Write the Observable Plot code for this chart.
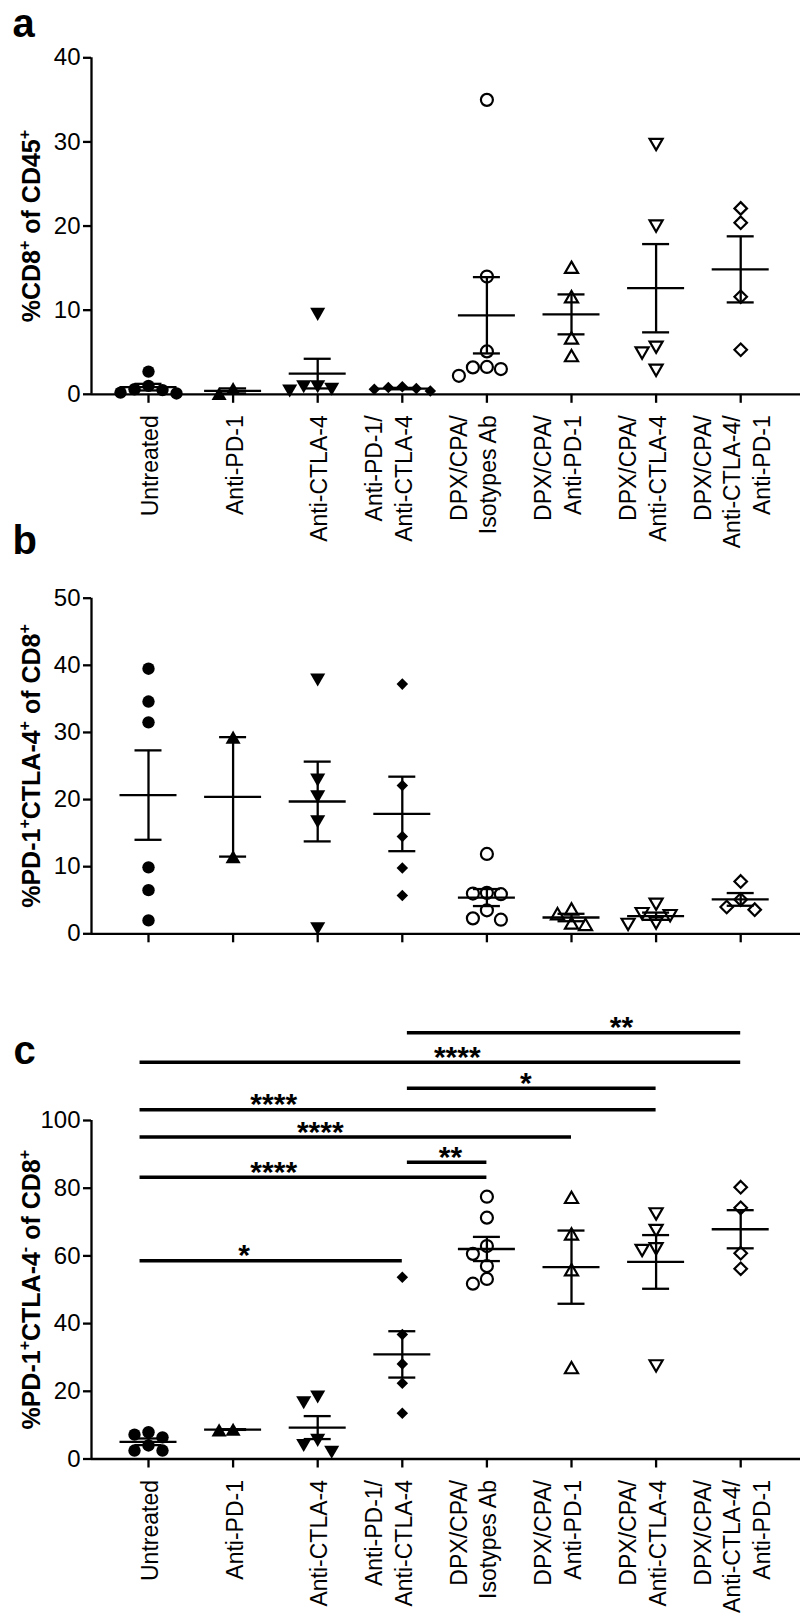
<!DOCTYPE html>
<html><head><meta charset="utf-8">
<script src="https://cdn.jsdelivr.net/npm/d3@7"></script>
<script src="https://cdn.jsdelivr.net/npm/@observablehq/plot@0.6"></script>
<style>
body{margin:0;background:#fff;}
#chart{width:800px;}
#chart svg{display:block;}
</style></head><body><div id="chart"></div>
<script>
// ---------- categories ----------
const categories = ["Untreated","Anti-PD-1","Anti-CTLA-4","Anti-PD-1/\nAnti-CTLA-4",
  "DPX/CPA/\nIsotypes Ab","DPX/CPA/\nAnti-PD-1","DPX/CPA/\nAnti-CTLA-4","DPX/CPA/\nAnti-CTLA-4/\nAnti-PD-1"];
const groupSymbol = ["circle","triUp","triDown","diamond","circle","triUp","triDown","diamond"];
const groupFilled = [true,true,true,true,false,false,false,false];

// ---------- panel a : %CD8+ of CD45+ ----------
const a_untreated = [2.7, 1.0, 0.6, 0.5, 0.2, 0.1];
const a_antiPD1   = [0.7, 0.1];
const a_antiCTLA4 = [9.5, 0.9, 0.9, 0.6, 0.4];
const a_combo     = [0.9, 0.8, 0.7, 0.6, 0.4];
const a_dpxIso    = [35.0, 14.0, 5.1, 3.25, 3.2, 3.0, 2.2];
const a_dpxPD1    = [15.1, 11.6, 6.7, 4.6];
const a_dpxCTLA4  = [29.7, 20.0, 5.6, 4.9, 2.85];
const a_dpxCombo  = [22.1, 20.4, 11.6, 5.3];
const a_ticks = [0, 10, 20, 30, 40];

// ---------- panel b : %PD-1+CTLA-4+ of CD8+ ----------
const b_untreated = [39.5, 34.6, 31.5, 9.9, 6.5, 2.0];
const b_antiPD1   = [29.3, 11.5];
const b_antiCTLA4 = [37.8, 22.9, 20.4, 16.7, 0.75];
const b_combo     = [37.2, 22.1, 14.5, 9.8, 5.7];
const b_dpxIso    = [11.9, 6.1, 6.0, 5.9, 3.5, 2.3, 2.1];
const b_dpxPD1    = [3.7, 3.0, 1.6, 1.4];
const b_dpxCTLA4  = [4.4, 3.0, 2.7, 1.6, 1.4];
const b_dpxCombo  = [7.8, 5.1, 4.0, 3.6];
const b_ticks = [0, 10, 20, 30, 40, 50];

// ---------- panel c : %PD-1+CTLA-4- of CD8+ ----------
const c_untreated = [7.9, 7.2, 6.4, 4.0, 2.5, 2.5];
const c_antiPD1   = [8.8, 8.6];
const c_antiCTLA4 = [18.3, 16.6, 5.5, 4.0, 2.0];
const c_combo     = [53.7, 36.8, 28.1, 22.4, 13.5];
const c_dpxIso    = [77.5, 71.3, 62.9, 60.6, 57.0, 53.2, 51.8];
const c_dpxPD1    = [77.3, 66.5, 55.9, 27.0];
const c_dpxCTLA4  = [72.4, 67.5, 62.1, 61.6, 27.5];
const c_dpxCombo  = [80.3, 74.2, 60.8, 56.2];
const c_ticks = [0, 20, 40, 60, 80, 100];

// significance brackets (panel c): group indices, bracket level (y units), stars, star position (category units)
const sigFrom  = [3, 0, 3, 0, 0, 3, 0, 0];
const sigTo    = [7, 7, 6, 6, 5, 4, 4, 3];
const sigLevel = [125.9, 117.2, 109.5, 103.2, 95.1, 87.7, 83.2, 58.6];
const sigStars = ["**", "****", "*", "****", "****", "**", "****", "*"];
const sigStarAt = [5.59, 3.65, 4.46, 1.48, 2.03, 3.57, 1.48, 1.13];

// ---------- layout ----------
const W = 800, ML = 91, STEP = 84.6, FIRST = 57;
const xLo = -FIRST / STEP, xHi = xLo + (W - ML) / STEP;
const FONT = "'Liberation Sans', Arial, Helvetica, sans-serif";
const AX = 2.3;
const LABEL_SIZE = 23, LABEL_LH = 1.28;

// symbols
const triUp = {draw(ctx, size){const s=Math.sqrt(4*size/Math.sqrt(3)),h=s*Math.sqrt(3)/2;ctx.moveTo(0,-h/2);ctx.lineTo(s/2,h/2);ctx.lineTo(-s/2,h/2);ctx.closePath();}};
const triDown = {draw(ctx, size){const s=Math.sqrt(4*size/Math.sqrt(3)),h=s*Math.sqrt(3)/2;ctx.moveTo(0,h/2);ctx.lineTo(s/2,-h/2);ctx.lineTo(-s/2,-h/2);ctx.closePath();}};
const diamond = {draw(ctx, size){const d=Math.sqrt(size/2);ctx.moveTo(0,-d);ctx.lineTo(d,0);ctx.lineTo(0,d);ctx.lineTo(-d,0);ctx.closePath();}};
function symStyle(g){
  const f = groupFilled[g], s = groupSymbol[g];
  if (s === "circle") return f ? {symbol:"circle", r:6.2, fill:"black", stroke:"none"} : {symbol:"circle", r:6, fill:"none", stroke:"black", strokeWidth:2.2};
  if (s === "triUp") return f ? {symbol:triUp, r:5.6, fill:"black", stroke:"none"} : {symbol:triUp, r:4.85, fill:"none", stroke:"black", strokeWidth:2.2};
  if (s === "triDown") return f ? {symbol:triDown, r:5.6, fill:"black", stroke:"none"} : {symbol:triDown, r:4.85, fill:"none", stroke:"black", strokeWidth:2.2};
  return f ? {symbol:diamond, r:4.6, fill:"black", stroke:"none"} : {symbol:diamond, r:5.0, fill:"none", stroke:"black", strokeWidth:2.2};
}

// scatter spreading (beeswarm on a grid of horizontal slots)
function swarm(values, pxPerUnit){
  const D = 12, s = 14;
  const order = values.map((v,i)=>i).sort((a,b)=>values[b]-values[a]);
  const cands = [0]; for (let k=1;k<=6;k++) cands.push(-k*s, k*s);
  const placed = [], off = new Array(values.length);
  for (const i of order){
    const y = values[i]*pxPerUnit;
    let chosen = cands[cands.length-1];
    for (const c of cands){ if (placed.every(p => Math.hypot(p.x-c, p.y-y) >= D)){ chosen = c; break; } }
    placed.push({x:chosen, y}); off[i] = chosen/STEP;
  }
  return off;
}

function superscripts(svg){
  d3.select(svg).selectAll("text").each(function(){
    if (this.children.length) return;
    const t = this.textContent;
    if (!/[⁺⁻]/.test(t)) return;
    const parts = t.split(/([⁺⁻])/).filter(p => p);
    this.textContent = "";
    let up = false;
    for (const p of parts){
      const ts = document.createElementNS("http://www.w3.org/2000/svg","tspan");
      if (p === "⁺" || p === "⁻"){
        ts.textContent = p === "⁺" ? "+" : "-";
        ts.setAttribute("font-size", "16");
        if (!up) ts.setAttribute("dy", "-10");
        up = true;
      } else {
        ts.textContent = p;
        if (up) ts.setAttribute("dy", "10");
        up = false;
      }
      this.appendChild(ts);
    }
  });
}

function panel({groups, ticks, height, marginTop, marginBottom, yLabel, letters, showLabels, sig}){
  const yMax = ticks[ticks.length-1];
  const pxPerUnit = (height - marginTop - marginBottom)/yMax;
  const marks = [];
  const stats = [];
  groups.forEach((vals, g) => {
    const off = swarm(vals, pxPerUnit);
    const pts = vals.map((v,i) => ({x: g + off[i], v}));
    marks.push(Plot.dot(pts, {x:"x", y:"v", ...symStyle(g)}));
    const m = d3.mean(vals), se = d3.deviation(vals)/Math.sqrt(vals.length);
    stats.push({g, m, lo: m - se, hi: m + se});
  });
  const hwMean = 28.5/STEP, hwCap = 13.5/STEP;
  marks.push(Plot.ruleY(stats, {y:"m", x1: d => d.g - hwMean, x2: d => d.g + hwMean, strokeWidth: AX}));
  marks.push(Plot.ruleX(stats, {x:"g", y1:"lo", y2:"hi", strokeWidth: AX}));
  marks.push(Plot.ruleY(stats, {y:"hi", x1: d => d.g - hwCap, x2: d => d.g + hwCap, strokeWidth: AX}));
  marks.push(Plot.ruleY(stats, {y:"lo", x1: d => d.g - hwCap, x2: d => d.g + hwCap, strokeWidth: AX}));
  if (sig){
    const rows = sigFrom.map((a,i) => ({a, b: sigTo[i], h: sigLevel[i], s: sigStars[i], lx: sigStarAt[i]}));
    marks.push(Plot.ruleY(rows, {y:"h", x1: d => d.a === 0 ? d.a - 0.1 : d.a + 0.06, x2:"b", strokeWidth: 3.5}));
    marks.push(Plot.text(rows, {x:"lx", y:"h", text:"s", dy:-5, fontSize:30, fontWeight:"bold"}));
  }
  // axes
  marks.push(Plot.ruleY([0], {strokeWidth: AX}));
  marks.push(Plot.ruleX([xLo], {y1: 0, y2: yMax, strokeWidth: AX}));
  marks.push(Plot.axisY({ticks, tickSize: 8, tickPadding: 3, fontSize: 24, strokeWidth: AX, label: null}));
  marks.push(Plot.axisX({ticks: d3.range(categories.length), tickSize: 9, tickFormat: () => "", strokeWidth: AX, label: null}));
  // y label
  marks.push(Plot.text([yLabel], {text: d => d, x: xLo, y: yMax/2, dx: -60, rotate: -90, fontSize: 25, fontWeight: "bold"}));
  if (showLabels){
    const rows = categories.map((c,i) => ({i, c, n: c.split("\n").length}));
    for (const n of [1,2,3]){
      marks.push(Plot.text(rows.filter(d => d.n === n), {x:"i", text:"c", frameAnchor:"bottom", rotate:-90,
        textAnchor:"end", lineAnchor:"middle", lineHeight: LABEL_LH, fontSize: LABEL_SIZE,
        dy: 21, dx: n === 1 ? 0 : -LABEL_SIZE*LABEL_LH/n}));
    }
  }
  for (const L of letters){
    marks.push(Plot.text([L.t], {text: d => d, x: xLo, y: L.atTop ? yMax : 0, dx: L.dx, dy: L.dy, textAnchor:"start", fontSize: 40, fontWeight:"bold"}));
  }
  const svg = Plot.plot({
    width: W, height, marginLeft: ML, marginRight: 0, marginTop, marginBottom,
    x: {type:"linear", domain:[xLo, xHi]},
    y: {domain:[0, yMax]},
    style: {fontFamily: FONT, fontSize: "24px", background: "white", color: "black", overflow: "visible"},
    marks
  });
  superscripts(svg);
  return svg;
}

const root = document.getElementById("chart");
root.appendChild(panel({
  groups: [a_untreated, a_antiPD1, a_antiCTLA4, a_combo, a_dpxIso, a_dpxPD1, a_dpxCTLA4, a_dpxCombo],
  ticks: a_ticks, height: 560, marginTop: 57.3, marginBottom: 166.2,
  yLabel: "%CD8⁺ of CD45⁺", showLabels: true,
  letters: [{t:"a", atTop:true, dx:-79, dy:-34.1}, {t:"b", atTop:false, dx:-79, dy:146.4}]
}));
root.appendChild(panel({
  groups: [b_untreated, b_antiPD1, b_antiCTLA4, b_combo, b_dpxIso, b_dpxPD1, b_dpxCTLA4, b_dpxCombo],
  ticks: b_ticks, height: 400, marginTop: 37.7, marginBottom: 26.7,
  yLabel: "%PD-1⁺CTLA-4⁺ of CD8⁺", showLabels: false, letters: []
}));
root.appendChild(panel({
  groups: [c_untreated, c_antiPD1, c_antiCTLA4, c_combo, c_dpxIso, c_dpxPD1, c_dpxCTLA4, c_dpxCombo],
  ticks: c_ticks, height: 653, marginTop: 160, marginBottom: 154.5,
  yLabel: "%PD-1⁺CTLA-4⁻ of CD8⁺", showLabels: true, sig: true,
  letters: [{t:"c", atTop:true, dx:-78, dy:-69.8}]
}));
</script>
</body></html>
